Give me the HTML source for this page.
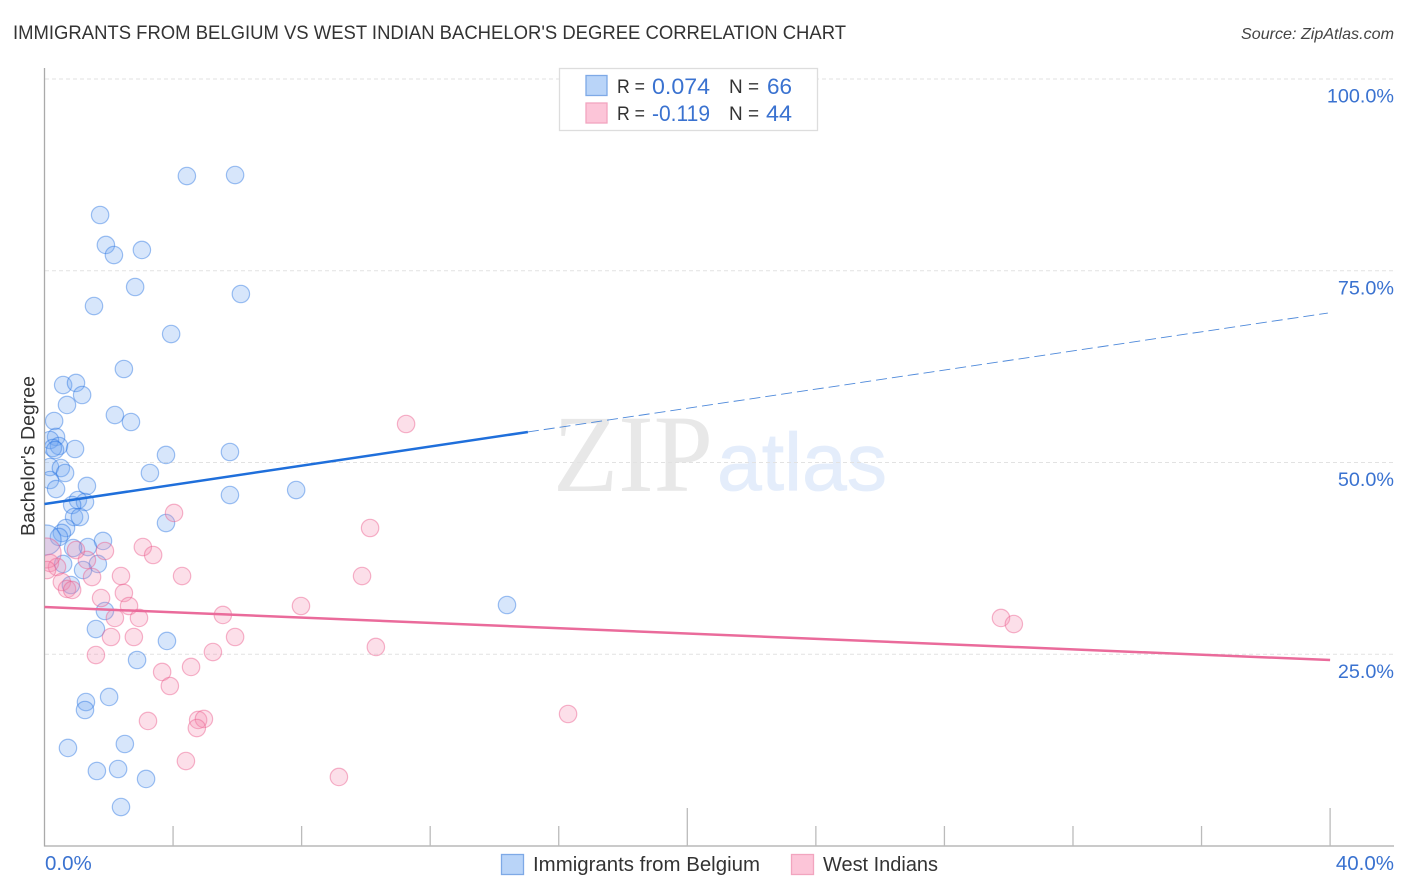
<!DOCTYPE html>
<html lang="en">
<head>
<meta charset="utf-8">
<title>Immigrants from Belgium vs West Indian Bachelor's Degree Correlation Chart</title>
<style>
html,body{margin:0;padding:0;background:#fff;}
body{width:1406px;height:892px;overflow:hidden;}
svg{display:block;font-family:"Liberation Sans",sans-serif;}
</style>
</head>
<body>
<svg id="chart" xmlns="http://www.w3.org/2000/svg" width="1406" height="892" viewBox="0 0 1406 892">
  <defs>
    <clipPath id="plot-clip"><rect x="45" y="60" width="1349" height="786"/></clipPath>
  </defs>
  <rect x="0" y="0" width="1406" height="892" fill="#ffffff"/>
  <text x="13" y="39" font-size="19.5" fill="#333333" textLength="833" lengthAdjust="spacingAndGlyphs">IMMIGRANTS FROM BELGIUM VS WEST INDIAN BACHELOR'S DEGREE CORRELATION CHART</text>
  <text x="1394" y="39" font-size="16" font-style="italic" fill="#444444" text-anchor="end" textLength="153" lengthAdjust="spacingAndGlyphs">Source: ZipAtlas.com</text>
  <text x="553" y="491" font-family="'Liberation Serif',serif" font-size="110" fill="#e8e8e8" textLength="160" lengthAdjust="spacingAndGlyphs">ZIP</text>
  <text x="717" y="490" font-size="82" fill="#e4edfb" stroke="#e4edfb" stroke-width="0.8" textLength="170" lengthAdjust="spacingAndGlyphs">atlas</text>
  <g id="grid"></g>
  <g id="axes"></g>
  <g id="points" clip-path="url(#plot-clip)"></g>
  <g id="trends"></g>
  <g id="labels"></g>
  <text transform="translate(34.5,456) rotate(-90)" font-size="19.5" fill="#333333" text-anchor="middle" textLength="160" lengthAdjust="spacingAndGlyphs">Bachelor's Degree</text>

  <g>
    <rect x="559.5" y="68.5" width="258" height="62" fill="#ffffff" stroke="#dddddd" stroke-width="1.3"/>
    <rect x="586" y="75.5" width="21" height="20" fill="#b9d4f8" stroke="#7ea9e6" stroke-width="1.3"/>
    <rect x="586" y="103" width="21" height="20" fill="#fcc5d8" stroke="#f2a5bf" stroke-width="1.3"/>
    <text x="617" y="93" font-size="19.5" fill="#333333" textLength="28" lengthAdjust="spacingAndGlyphs">R =</text>
    <text x="652" y="94" font-size="22" fill="#3a72d0" textLength="58" lengthAdjust="spacingAndGlyphs">0.074</text>
    <text x="729" y="93" font-size="19.5" fill="#333333" textLength="30" lengthAdjust="spacingAndGlyphs">N =</text>
    <text x="767" y="94" font-size="22" fill="#3a72d0" textLength="25" lengthAdjust="spacingAndGlyphs">66</text>
    <text x="617" y="120" font-size="19.5" fill="#333333" textLength="28" lengthAdjust="spacingAndGlyphs">R =</text>
    <text x="652" y="121" font-size="22" fill="#3a72d0" textLength="58" lengthAdjust="spacingAndGlyphs">-0.119</text>
    <text x="729" y="120" font-size="19.5" fill="#333333" textLength="30" lengthAdjust="spacingAndGlyphs">N =</text>
    <text x="766" y="121" font-size="22" fill="#3a72d0" textLength="26" lengthAdjust="spacingAndGlyphs">44</text>
  </g>

  <g>
    <rect x="501.5" y="854.5" width="22" height="20" fill="#b9d4f8" stroke="#7ea9e6" stroke-width="1.3"/>
    <text x="533" y="871" font-size="20" fill="#333333" textLength="227" lengthAdjust="spacingAndGlyphs">Immigrants from Belgium</text>
    <rect x="791.5" y="854.5" width="22" height="20" fill="#fcc5d8" stroke="#f2a5bf" stroke-width="1.3"/>
    <text x="823" y="871" font-size="20" fill="#333333" textLength="115" lengthAdjust="spacingAndGlyphs">West Indians</text>
  </g>
</svg>
<script>
const xTickValues = [0, 4, 8, 12, 16, 20, 24, 28, 32, 36, 40];
const xMajorTicks = [0, 20, 40];
const xTickLabels = ["0.0%", "40.0%"];
const yTickValues = [25, 50, 75, 100];
const yTickLabels = ["25.0%", "50.0%", "75.0%", "100.0%"];

const belgiumX = [4.43,5.93,1.73,1.91,2.16,3.03,2.82,6.11,1.54,3.94,2.47,0.58,0.98,1.17,0.70,2.19,2.69,0.30,0.36,0.17,0.45,0.26,0.33,0.95,3.78,5.77,0.17,0.51,0.64,0.17,0.36,1.32,3.28,5.77,1.04,1.26,0.86,0.92,1.10,3.78,0.67,0.54,0.45,0.05,1.82,1.35,0.89,1.66,0.58,1.20,0.82,7.83,14.39,1.88,1.60,3.81,2.88,2.01,1.29,1.26,0.73,2.50,1.63,2.29,3.16,2.38];
const belgiumY = [87.35,87.48,82.27,78.36,77.05,77.71,72.88,71.97,70.40,66.75,62.19,60.10,60.37,58.80,57.50,56.19,55.28,55.41,53.33,52.93,52.15,51.89,51.63,51.76,50.98,51.37,49.41,49.28,48.63,47.72,46.54,46.94,48.63,45.76,45.11,44.85,44.46,42.89,42.89,42.11,41.46,40.81,40.29,39.90,39.77,38.98,38.85,36.77,36.77,35.98,34.03,46.41,31.42,30.64,28.29,26.73,24.25,19.43,18.77,17.73,12.78,13.30,9.78,10.04,8.74,5.08];
const belgiumHeavyPoints = [43];

const westIndiansX = [3.06,3.38,4.28,2.38,2.47,1.76,2.63,2.19,2.94,2.07,2.78,1.60,1.88,1.32,1.48,0.17,0.39,0.54,0.70,0.86,0.98,0.05,0.08,11.25,4.03,10.13,9.88,7.98,5.55,5.93,10.31,5.24,4.56,3.66,3.90,16.29,29.76,30.16,3.22,4.78,4.96,4.74,4.40,9.16];
const westIndiansY = [38.98,37.94,35.20,35.20,32.99,32.33,31.29,29.73,29.73,27.25,27.25,24.90,38.46,37.29,35.07,36.90,36.38,34.42,33.51,33.38,38.59,38.20,35.98,55.02,43.42,41.46,35.20,31.29,30.12,27.25,25.95,25.29,23.34,22.69,20.86,17.21,29.73,28.94,16.30,16.43,16.56,15.38,11.08,9.00];
const westIndiansHeavyPoints = [21];

const belgiumTrendX = [0, 15.04, 39.93];
const belgiumTrendY = [44.59, 53.98, 69.49];
const westIndiansTrendX = [0, 40];
const westIndiansTrendY = [31.16, 24.25];

const SVG_NS = "http://www.w3.org/2000/svg";
function xScale(v) { return 44.5 + v * 32.14; }
function yScale(v) { return 846 - v * 7.67; }
function make(tag, attrs, parent) {
  const el = document.createElementNS(SVG_NS, tag);
  Object.keys(attrs).forEach(function (k) { el.setAttribute(k, attrs[k]); });
  parent.appendChild(el);
  return el;
}

const gridGroup = document.getElementById("grid");
const axesGroup = document.getElementById("axes");
const pointsGroup = document.getElementById("points");
const trendsGroup = document.getElementById("trends");
const labelsGroup = document.getElementById("labels");

yTickValues.forEach(function (v, i) {
  const line = make("line", { x1: 45, x2: 1394, y1: yScale(v), y2: yScale(v), stroke: "#e2e2e2", "stroke-width": 1, "stroke-dasharray": "4 3" }, gridGroup);
  
  
  const label = make("text", { x: 1394, y: yScale(v) + 23.5, "text-anchor": "end", "font-size": 19.8, fill: "#3a72d0" }, labelsGroup);
  
  
  label.textContent = yTickLabels[i];
});

const yAxisLine = make("line", { x1: 44.5, x2: 44.5, y1: 68, y2: 846.5, stroke: "#aaaaaa", "stroke-width": 1.3 }, axesGroup);


const xAxisLine = make("line", { x1: 44, x2: 1394, y1: 846, y2: 846, stroke: "#aaaaaa", "stroke-width": 1.3 }, axesGroup);



xTickValues.forEach(function (v) {
  if (v === 0) return;
  const top = xMajorTicks.indexOf(v) >= 0 ? 808 : 826;
  const tick = make("line", { x1: xScale(v), x2: xScale(v), y1: top, y2: 846, stroke: "#bbbbbb", "stroke-width": 1.3 }, axesGroup);
  
  
});

const xLabelLeft = make("text", { x: xScale(xTickValues[0]) + 0.5, y: 870, "font-size": 20.5, fill: "#3a72d0" }, labelsGroup);


xLabelLeft.textContent = xTickLabels[0];
const xLabelRight = make("text", { x: 1394, y: 870, "text-anchor": "end", "font-size": 20.5, fill: "#3a72d0" }, labelsGroup);


xLabelRight.textContent = xTickLabels[1];

function drawSeries(xs, ys, heavy, fill, stroke, seriesName) {
  xs.forEach(function (v, i) {
    const radius = heavy.indexOf(i) >= 0 ? 15 : 8.7;
    const dot = make("circle", { cx: xScale(v), cy: yScale(ys[i]), r: radius, fill: fill, stroke: stroke, "stroke-width": 1.2 }, pointsGroup);
    
    
  });
}
drawSeries(belgiumX, belgiumY, belgiumHeavyPoints, "rgba(110,165,240,0.28)", "rgba(30,110,225,0.42)", "belgium-point");
drawSeries(westIndiansX, westIndiansY, westIndiansHeavyPoints, "rgba(245,140,175,0.28)", "rgba(235,90,140,0.45)", "west-indians-point");

const belgiumSolid = make("line", { x1: xScale(belgiumTrendX[0]), y1: yScale(belgiumTrendY[0]), x2: xScale(belgiumTrendX[1]), y2: yScale(belgiumTrendY[1]), stroke: "#1f6fdb", "stroke-width": 2.5 }, trendsGroup);


const belgiumDashed = make("line", { x1: xScale(belgiumTrendX[1]), y1: yScale(belgiumTrendY[1]), x2: xScale(belgiumTrendX[2]), y2: yScale(belgiumTrendY[2]), stroke: "#2f74d4", "stroke-width": 0.9, "stroke-dasharray": "11 5", "stroke-opacity": 0.85 }, trendsGroup);


const pinkTrend = make("line", { x1: xScale(westIndiansTrendX[0]), y1: yScale(westIndiansTrendY[0]), x2: xScale(westIndiansTrendX[1]), y2: yScale(westIndiansTrendY[1]), stroke: "#ea6b9b", "stroke-width": 2.5 }, trendsGroup);


</script>
</body>
</html>
